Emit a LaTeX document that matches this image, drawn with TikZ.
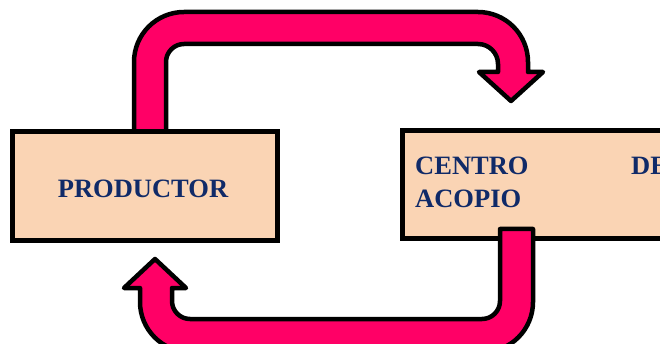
\documentclass[tikz,border=0pt]{standalone}
\usepackage{fontspec}
\setmainfont{Liberation Serif}
\definecolor{arrowpink}{HTML}{FF0066}
\definecolor{boxpeach}{HTML}{FAD4B4}
\definecolor{textnavy}{HTML}{102A68}
\begin{document}
\begin{tikzpicture}[x=1pt,y=-1pt,
  boxstyle/.style={draw=black,line width=5pt,fill=boxpeach},
  arrowstyle/.style={draw=black,line width=4.5pt,fill=arrowpink,line join=round},
  labelstyle/.style={text=textnavy,font=\fontsize{26.5pt}{30pt}\selectfont\bfseries,inner sep=0pt}]
\useasboundingbox (0,0) rectangle (660,344);
% top arrow (behind the left box)
\draw[arrowstyle] (134,136) -- (134,62) arc (180:270:50) -- (478,12) arc (270:360:50)
  -- (528,72) -- (543,72) -- (511,101) -- (479,72) -- (498,72) -- (498,64) arc (0:-90:20)
  -- (184,44) arc (270:180:18) -- (166,136) -- cycle;
% boxes
\draw[boxstyle] (12,132) rectangle (277,241);
\node[labelstyle,anchor=base] (prod) at (143,198) {PRODUCTOR};
\draw[boxstyle] (402,131) rectangle (690,239);
\node[labelstyle,anchor=base west] (c1) at (415,175) {CENTRO};
\node[labelstyle,anchor=base west] (c2) at (631,175) {DE};
\node[labelstyle,anchor=base west] (c3) at (415,208) {ACOPIO};
% bottom arrow (over the right box)
\draw[arrowstyle] (500,229) -- (533,229) -- (533,302) arc (0:90:50) -- (190,352) arc (90:180:50)
  -- (140,288) -- (124,288) -- (155,259) -- (186,288) -- (172,288) -- (172,301) arc (180:90:18)
  -- (482,319) arc (90:0:18) -- cycle;
\end{tikzpicture}
\end{document}
